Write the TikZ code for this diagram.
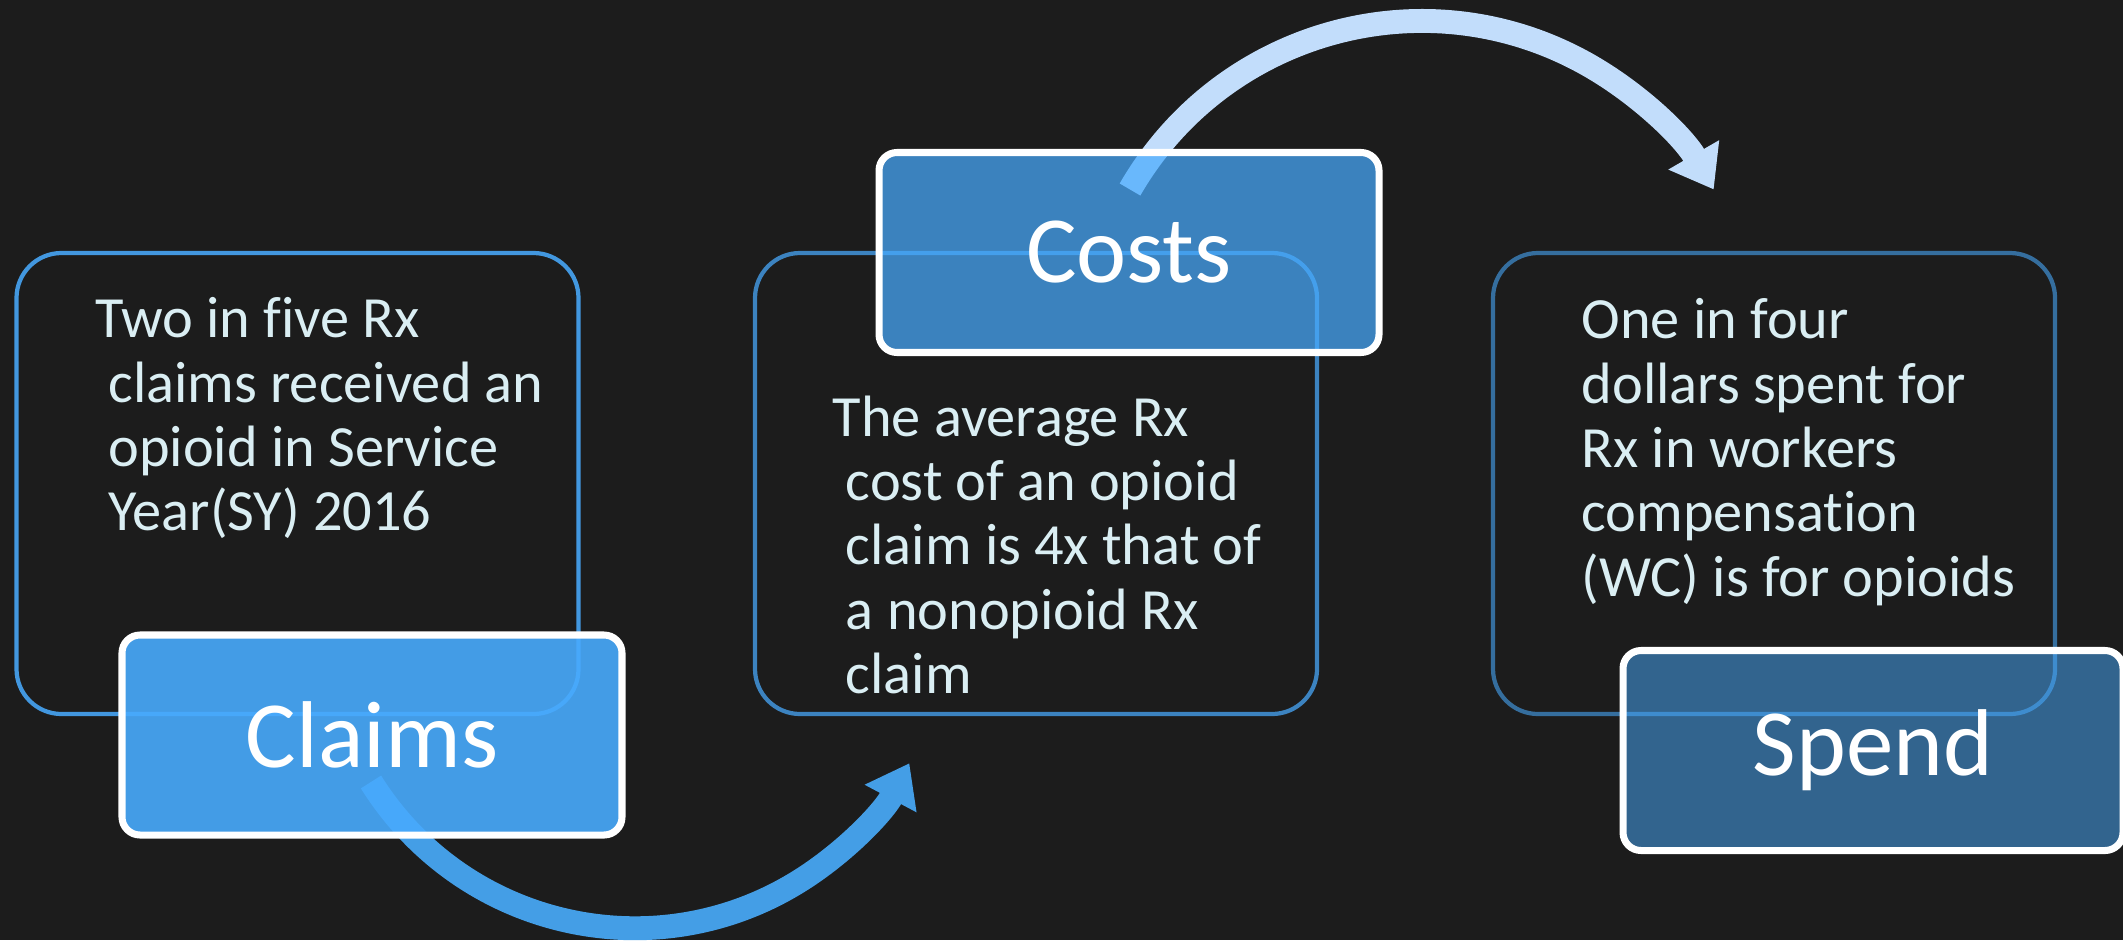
\documentclass[tikz,border=0pt]{standalone}
\usepackage{fontspec}
\setmainfont[Ligatures={NoCommon}]{Carlito}
\usetikzlibrary{arrows.meta}
\definecolor{bgdark}{RGB}{28,28,28}
\definecolor{skyblue}{RGB}{72,170,253}
\definecolor{arrowblue}{RGB}{68,158,230}
\definecolor{paleblue}{RGB}{194,221,251}
\definecolor{bodytext}{RGB}{218,238,243}

\begin{document}
\begin{tikzpicture}[
    panel/.style={draw=skyblue, line width=1.2pt, rounded corners=0.45cm, outer sep=0pt,
      minimum width=5.62cm, minimum height=4.61cm},
    tagbox/.style={draw=white, line width=2pt, fill=skyblue, rounded corners=0.18cm,
      minimum width=5cm, minimum height=2cm, text=white, text opacity=1,
      font=\fontsize{27}{32}\selectfont},
    bodytxt/.style={anchor=north west, align=left, inner sep=0pt, text=bodytext,
      font=\fontsize{16.6}{18.3}\selectfont},
    flow/.style={line width=6.8pt, -{Triangle[length=4mm, width=5.6mm]}}
  ]
    % Background
    \fill [bgdark] (0, 0) rectangle (21.23, 9.4);
    \useasboundingbox (0, 0) rectangle (21.23, 9.4);

    % Panels
    \node [panel, draw opacity=0.87] (claimsbox) at (2.975, 4.565) {};
    \node [panel, draw opacity=0.73] (costsbox) at (10.36, 4.565) {};
    \node [panel, draw opacity=0.58] (spendbox) at (17.74, 4.565) {};

    % Arrows
    \coordinate (lowstart) at (3.71, 1.58);
    \coordinate (highstart) at (11.30, 7.505);
    \draw [flow, arrowblue] (lowstart)
          arc [start angle=212, end angle=332, radius=3.11cm];
    \draw [flow, paleblue] (highstart)
          arc [start angle=150, end angle=30, radius=3.37cm];

    % Tags
    \node [tagbox, fill opacity=0.9] (claims) at (3.72, 2.05) {Claims};
    \node [tagbox, fill opacity=0.72] (costs) at (11.29, 6.875) {Costs};
    \node [tagbox, fill opacity=0.51] (spend) at (18.73, 1.895) {Spend};

    % Texts
    \node [bodytxt] (claimstxt) at ([shift={(0.78, -0.44)}]claimsbox.north west)
          {Two in five Rx\\\ claims received an\\\ opioid in Service\\\ Year(SY) 2016};
    \node [bodytxt] (coststxt) at ([shift={(0.77, -1.42)}]costsbox.north west)
          {The average Rx\\\ cost of an opioid\\\ claim is 4x that of\\\ a nonopioid Rx\\\ claim};
    \node [bodytxt] (spendtxt) at ([shift={(0.88, -0.45)}]spendbox.north west)
          {One in four\\dollars spent for\\Rx in workers\\compensation\\(WC) is for opioids};
\end{tikzpicture}
\end{document}
